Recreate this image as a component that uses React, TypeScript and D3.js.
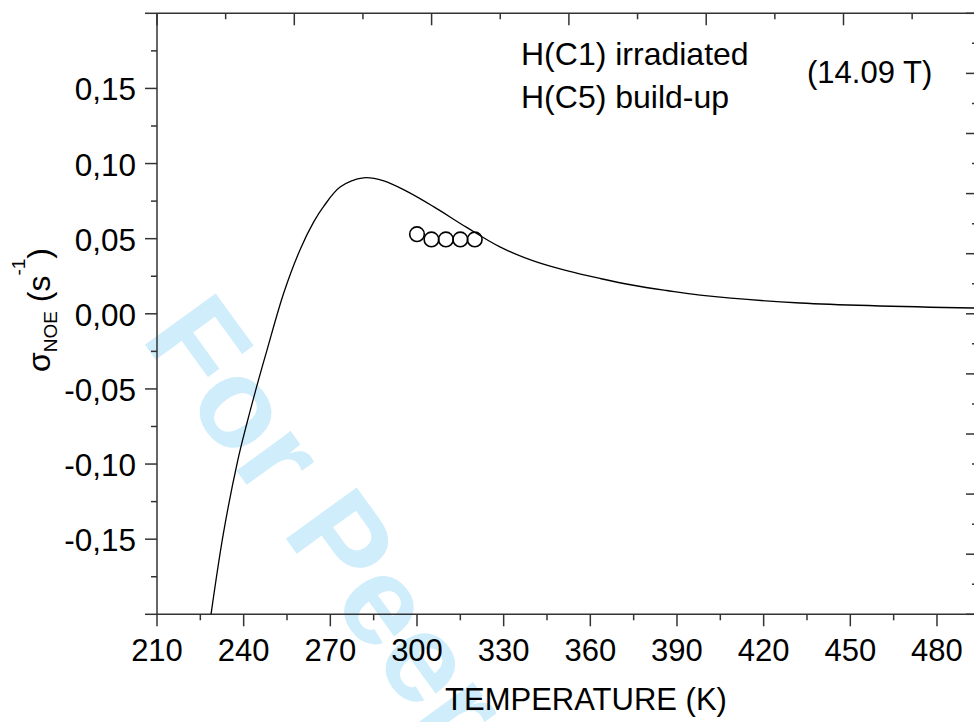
import React from "react";
import * as d3 from "d3";

// ---- data ----
const curveTemps = [228.7, 233.0, 237.9, 241.1, 245.0, 248.1, 253.9, 259.6, 264.2, 267.7, 273.5, 281.5, 288.5, 296.5, 305.6, 317.2, 328.7, 340.3, 351.8, 363.4, 374.9, 386.4, 398.0, 432.6, 494.0];
const curveSigma = [-0.2, -0.146, -0.098, -0.073, -0.045, -0.024, 0.014, 0.043, 0.061, 0.0715, 0.0845, 0.0905, 0.0885, 0.0815, 0.0715, 0.0575, 0.0445, 0.0352, 0.0287, 0.0235, 0.019, 0.0155, 0.0124, 0.0072, 0.0038];
const pointTemps = [300, 305, 310, 315, 320];
const pointSigma = [0.053, 0.0495, 0.0495, 0.0495, 0.0495];
const xTickValues = [210, 240, 270, 300, 330, 360, 390, 420, 450, 480];
const yTickValues = [-0.2, -0.15, -0.1, -0.05, 0, 0.05, 0.1, 0.15, 0.2];
const yLabelled = [-0.15, -0.1, -0.05, 0, 0.05, 0.1, 0.15];
const legendLines = ["H(C1) irradiated", "H(C5) build-up"];
const fieldLabel = "(14.09 T)";
const xTitle = "TEMPERATURE (K)";

const FONT = "'Liberation Sans', Arial, Helvetica, sans-serif";
const AX = "#333";

export default function App() {
  const left = 157, right = 978, top = 13.3, bottom = 614.3;
  const x = d3.scaleLinear().domain([210, 494.2]).range([left, right]);
  const y = d3.scaleLinear().domain([-0.2, 0.2]).range([bottom, top]);
  const yRight = d3.scaleLinear().domain([0, 10]).range([bottom, top]);
  const xTop = d3.scaleLinear().domain([0, 6]).range([left, 980.8]);

  const fmt = d3.formatLocale({ decimal: ",", thousands: ".", grouping: [3], currency: ["", ""], minus: "-" }).format(".2f");

  const curveData = curveTemps.map((t, i) => [t, curveSigma[i]] as [number, number]);
  const line = d3.line<[number, number]>().x(d => x(d[0])).y(d => y(d[1])).curve(d3.curveCatmullRom.alpha(0.5));

  const xMinor = d3.range(225, 495, 30);
  const yMinor = d3.range(-0.175, 0.2, 0.05);
  const rMajor = d3.range(0, 11, 1);
  const rMinor = d3.range(0.5, 10, 1);
  const tMajor = d3.range(0, 7, 1);
  const tMinor = d3.range(0.5, 6, 1);

  return (
    <svg width={974} height={722} style={{ position: "absolute", left: 0, top: 0, background: "#fff" }} fontFamily={FONT}>
      <defs>
        <clipPath id="plot">
          <rect x={left} y={top} width={right - left} height={bottom - top} />
        </clipPath>
      </defs>
      <rect x={0} y={0} width={974} height={722} fill="#fff" />
      {/* watermark */}
      <text transform="translate(140,338) rotate(54)" fontSize={127} fontWeight="bold" fill="#cfedfb">For Peer Review</text>

      {/* frame */}
      <line x1={left} x2={left} y1={top} y2={bottom} stroke={AX} strokeWidth={1.5} />
      <line x1={left} x2={right} y1={bottom} y2={bottom} stroke={AX} strokeWidth={1.5} />
      <line x1={left} x2={right} y1={top} y2={top} stroke={AX} strokeWidth={1.5} />
      <line x1={right} x2={right} y1={top} y2={bottom} stroke={AX} strokeWidth={1.5} />

      {/* bottom ticks */}
      {xTickValues.map(v => (
        <g key={"xb" + v}>
          <line x1={x(v)} x2={x(v)} y1={bottom} y2={bottom + 12} stroke={AX} strokeWidth={1.5} />
          <text x={x(v)} y={661} fontSize={31} textAnchor="middle" fill="#000">{v}</text>
        </g>
      ))}
      {xMinor.map(v => (
        <line key={"xm" + v} x1={x(v)} x2={x(v)} y1={bottom} y2={bottom + 6} stroke={AX} strokeWidth={1.5} />
      ))}

      {/* left ticks */}
      {yTickValues.map(v => (
        <line key={"yl" + v} x1={left - 12} x2={left} y1={y(v)} y2={y(v)} stroke={AX} strokeWidth={1.5} />
      ))}
      {yMinor.map(v => (
        <line key={"ym" + v} x1={left - 6} x2={left} y1={y(v)} y2={y(v)} stroke={AX} strokeWidth={1.5} />
      ))}
      {yLabelled.map(v => (
        <text key={"yt" + v} x={136} y={y(v) + 12} fontSize={31.5} textAnchor="end" fill="#000">{fmt(v)}</text>
      ))}

      {/* top ticks (inward) */}
      {tMajor.map(v => (
        <line key={"tt" + v} x1={xTop(v)} x2={xTop(v)} y1={top} y2={top + 12} stroke={AX} strokeWidth={1.5} />
      ))}
      {tMinor.map(v => (
        <line key={"tm" + v} x1={xTop(v)} x2={xTop(v)} y1={top} y2={top + 6} stroke={AX} strokeWidth={1.5} />
      ))}

      {/* right ticks (inward) */}
      {rMajor.map(v => (
        <line key={"rt" + v} x1={right - 12} x2={right} y1={yRight(v)} y2={yRight(v)} stroke={AX} strokeWidth={1.5} />
      ))}
      {rMinor.map(v => (
        <line key={"rm" + v} x1={right - 6} x2={right} y1={yRight(v)} y2={yRight(v)} stroke={AX} strokeWidth={1.5} />
      ))}

      {/* curve */}
      <path d={line(curveData) || ""} fill="none" stroke="#000" strokeWidth={1.3} clipPath="url(#plot)" />

      {/* points */}
      {pointTemps.map((t, i) => (
        <circle key={"p" + i} cx={x(t)} cy={y(pointSigma[i])} r={7.3} fill="none" stroke="#000" strokeWidth={1.6} />
      ))}

      {/* legend */}
      {legendLines.map((s, i) => (
        <text key={"lg" + i} x={521} y={65 + i * 43.3} fontSize={32} fill="#000">{s}</text>
      ))}
      <text x={807} y={83.3} fontSize={31} fill="#000">{fieldLabel}</text>

      {/* axis titles */}
      <text x={586} y={709.5} fontSize={31} textAnchor="middle" fill="#000">{xTitle}</text>
      <text transform="translate(50,310) rotate(-90)" fontSize={32} textAnchor="middle" fill="#000">
        <tspan>σ</tspan>
        <tspan fontSize={19} dy={7}>NOE</tspan>
        <tspan dy={-7}> (s</tspan>
        <tspan fontSize={19} dy={-25}>-1</tspan>
        <tspan dy={25}>)</tspan>
      </text>
    </svg>
  );
}
